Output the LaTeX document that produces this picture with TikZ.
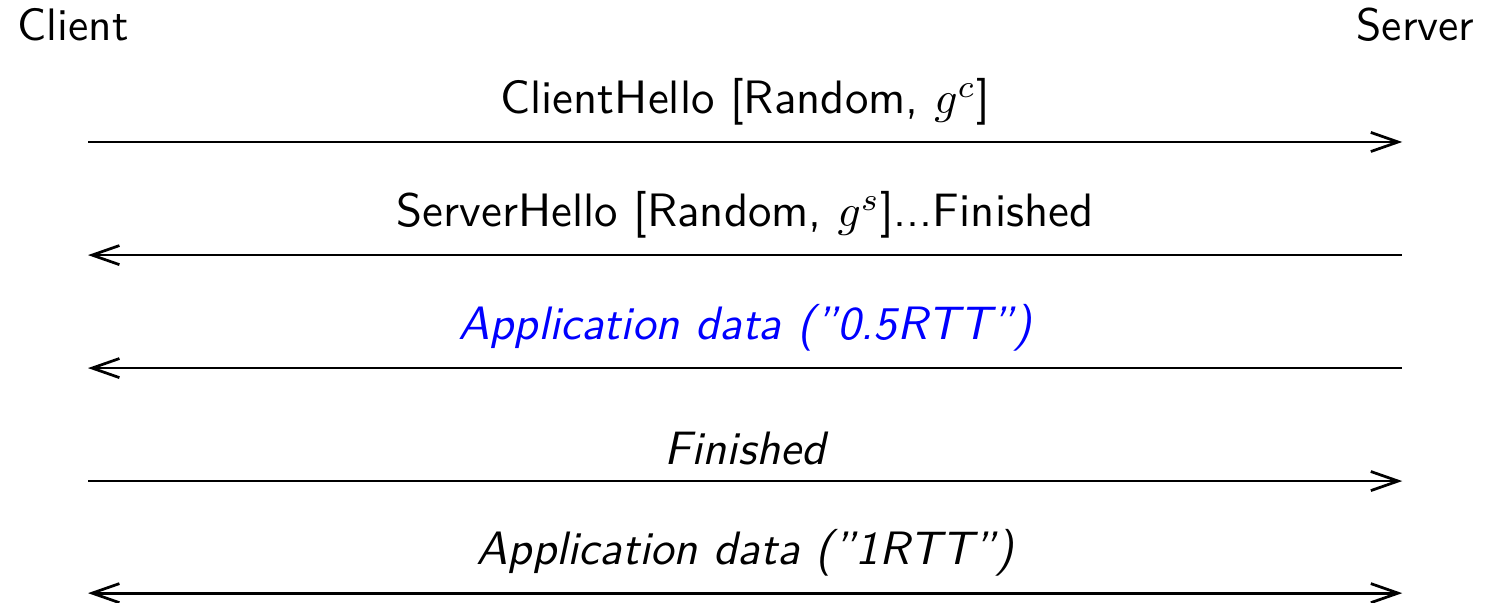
\documentclass[tikz,border=0pt]{standalone}
\usepackage{amsmath}
\usetikzlibrary{arrows.meta}

\begin{document}
\begin{tikzpicture}[every node/.style={font=\sffamily},
    msg/.style={line width=0.6pt, >={Straight Barb[length=6pt,width=4.2pt]}},
    lbl/.style={above, font=\sffamily\fontsize{10.3}{12}\selectfont}]

		% Fix the size of the picture
		\useasboundingbox (0,0) rectangle (11.49,-4.652);

		% The two hosts
		\node[anchor=base west, inner sep=0] (client) at (0.131,-0.309) {Client};
		\node[anchor=base east, inner sep=0] (server) at (11.399,-0.309) {Server};

		% End points of the messages
		\foreach \i/\y in {1/1.097,2/1.971,3/2.844,4/3.717,5/4.583} {
		\coordinate (c\i) at (0.680,-\y);
		\coordinate (s\i) at (10.835,-\y);
		}

		% The messages
		\draw[msg,->] (c1) -- node[lbl] (m1) {ClientHello [Random, $g^c$]} (s1);
		\draw[msg,<-] (c2) -- node[lbl] (m2) {ServerHello [Random, $g^s$]...Finished} (s2);
		\draw[msg,<-] (c3) -- node[lbl, text=blue] (m3) {\itshape Application data (''0.5RTT'')} (s3);
		\draw[msg,->] (c4) -- node[lbl] (m4) {\itshape Finished} (s4);
		\draw[msg,<->] (c5) -- node[lbl] (m5) {\itshape Application data (''1RTT'')} (s5);

\end{tikzpicture}
\end{document}
